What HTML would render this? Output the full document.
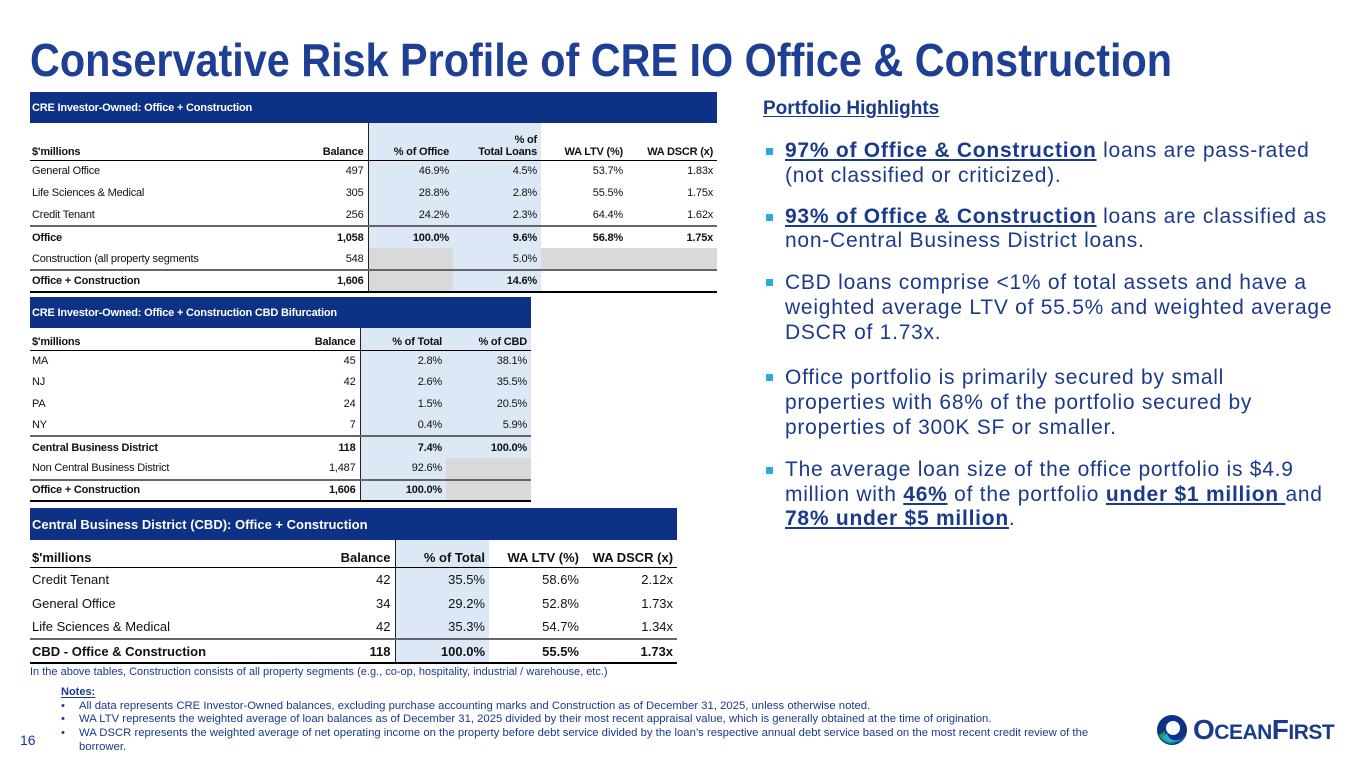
<!DOCTYPE html>
<html><head><meta charset="utf-8">
<style>
*{margin:0;padding:0;box-sizing:border-box}
body{width:1365px;height:768px;background:#fff;position:relative;overflow:hidden;font-family:"Liberation Sans",Arial,sans-serif;color:#1a3a8c}
.abs{position:absolute}
table{border-collapse:collapse;table-layout:fixed;position:absolute;font-family:"Liberation Sans",sans-serif;color:#111}
td{padding:0 4px;white-space:nowrap;overflow:hidden;text-align:right;vertical-align:middle}
td.l{text-align:left;padding-left:2px}
.band td{background:#0d3185;color:#fff;font-weight:bold;text-align:left;padding-left:2px}
.b{font-weight:bold}
.bl{background:#dce8f6}
.gr{background:#d9d9d9}
.vl{border-left:1px solid #222}
.hdr td{border-bottom:1.5px solid #000;font-weight:bold;vertical-align:bottom;padding-bottom:2px}
.sep td{border-top:2px solid #666}
.last td{border-bottom:2.5px solid #000}
.t1{font-size:11px;letter-spacing:-0.2px}
.t3{font-size:13px}
ul.hl{list-style:none;position:absolute;left:765px;top:139px;width:600px;font-size:21px;letter-spacing:0.75px;line-height:24.5px;color:#1a3a8c;white-space:nowrap}
ul.hl li{position:relative;padding-left:20px;margin-bottom:16.5px}
ul.hl li:before{content:"";position:absolute;left:1px;top:9px;width:7px;height:7px;background:#29abe2}
ul.hl li.m3{margin-bottom:19.5px;line-height:25px}
ul.hl li.m4{margin-bottom:18.5px;line-height:25px}
u{text-underline-offset:2px}
.notes{position:absolute;left:61px;top:686px;font-size:11.3px;line-height:13.7px;color:#1a3a8c;width:1032px}
.notes div{position:relative;padding-left:18px}
.notes div:before{content:"•";position:absolute;left:0}
</style></head><body>

<svg class="abs" style="left:0;top:0" width="1365" height="90">
<text x="30" y="76" font-family="Liberation Sans, sans-serif" font-weight="bold" font-size="46" fill="#1f3f94" textLength="1142" lengthAdjust="spacingAndGlyphs">Conservative Risk Profile of CRE IO Office &amp; Construction</text>
</svg>

<table class="t1" style="left:30px;top:92px;width:687px">
<colgroup><col style="width:260px"><col style="width:78px"><col style="width:85px"><col style="width:88px"><col style="width:86px"><col style="width:90px"></colgroup>
<tr class="band" style="height:31px"><td colspan="6">CRE Investor-Owned: Office + Construction</td></tr>
<tr class="hdr" style="height:37px"><td class="l">$'millions</td><td>Balance</td><td class="bl vl">% of Office</td><td class="bl" style="text-align:right">% of<br>Total Loans</td><td>WA LTV (%)</td><td>WA DSCR (x)</td></tr>
<tr style="height:22px"><td class="l">General Office</td><td>497</td><td class="bl vl">46.9%</td><td class="bl">4.5%</td><td>53.7%</td><td>1.83x</td></tr>
<tr style="height:22px"><td class="l">Life Sciences &amp; Medical</td><td>305</td><td class="bl vl">28.8%</td><td class="bl">2.8%</td><td>55.5%</td><td>1.75x</td></tr>
<tr style="height:22px"><td class="l">Credit Tenant</td><td>256</td><td class="bl vl">24.2%</td><td class="bl">2.3%</td><td>64.4%</td><td>1.62x</td></tr>
<tr class="sep b" style="height:22px"><td class="l">Office</td><td>1,058</td><td class="bl vl">100.0%</td><td class="bl">9.6%</td><td>56.8%</td><td>1.75x</td></tr>
<tr style="height:22px"><td class="l">Construction (all property segments</td><td>548</td><td class="gr vl"></td><td class="bl">5.0%</td><td class="gr"></td><td class="gr"></td></tr>
<tr class="sep last b" style="height:22px"><td class="l">Office + Construction</td><td>1,606</td><td class="gr vl"></td><td class="bl">14.6%</td><td></td><td></td></tr>
</table>

<table class="t1" style="left:30px;top:297px;width:501px">
<colgroup><col style="width:260px"><col style="width:70px"><col style="width:86px"><col style="width:85px"></colgroup>
<tr class="band" style="height:31px"><td colspan="4">CRE Investor-Owned: Office + Construction CBD Bifurcation</td></tr>
<tr class="hdr" style="height:22px"><td class="l">$'millions</td><td>Balance</td><td class="bl vl">% of Total</td><td class="bl">% of CBD</td></tr>
<tr style="height:21.6px"><td class="l">MA</td><td>45</td><td class="bl vl">2.8%</td><td class="bl">38.1%</td></tr>
<tr style="height:21.6px"><td class="l">NJ</td><td>42</td><td class="bl vl">2.6%</td><td class="bl">35.5%</td></tr>
<tr style="height:21.6px"><td class="l">PA</td><td>24</td><td class="bl vl">1.5%</td><td class="bl">20.5%</td></tr>
<tr style="height:21.6px"><td class="l">NY</td><td>7</td><td class="bl vl">0.4%</td><td class="bl">5.9%</td></tr>
<tr class="sep b" style="height:21.6px"><td class="l">Central Business District</td><td>118</td><td class="bl vl">7.4%</td><td class="bl">100.0%</td></tr>
<tr style="height:21.6px"><td class="l">Non Central Business District</td><td>1,487</td><td class="bl vl">92.6%</td><td class="gr"></td></tr>
<tr class="sep last b" style="height:21.6px"><td class="l">Office + Construction</td><td>1,606</td><td class="bl vl">100.0%</td><td class="gr"></td></tr>
</table>

<table class="t3" style="left:30px;top:508px;width:647px">
<colgroup><col style="width:290px"><col style="width:75px"><col style="width:94px"><col style="width:94px"><col style="width:94px"></colgroup>
<tr class="band" style="height:32px"><td colspan="5">Central Business District (CBD): Office + Construction</td></tr>
<tr class="hdr" style="height:27px"><td class="l">$'millions</td><td>Balance</td><td class="bl vl">% of Total</td><td>WA LTV (%)</td><td>WA DSCR (x)</td></tr>
<tr style="height:24px"><td class="l">Credit Tenant</td><td>42</td><td class="bl vl">35.5%</td><td>58.6%</td><td>2.12x</td></tr>
<tr style="height:24px"><td class="l">General Office</td><td>34</td><td class="bl vl">29.2%</td><td>52.8%</td><td>1.73x</td></tr>
<tr style="height:24px"><td class="l">Life Sciences &amp; Medical</td><td>42</td><td class="bl vl">35.3%</td><td>54.7%</td><td>1.34x</td></tr>
<tr class="sep last b" style="height:24px"><td class="l">CBD - Office &amp; Construction</td><td>118</td><td class="bl vl">100.0%</td><td>55.5%</td><td>1.73x</td></tr>
</table>

<div class="abs" style="left:30px;top:666px;font-size:11px;color:#1a3a8c">In the above tables, Construction consists of all property segments (e.g., co-op, hospitality, industrial / warehouse, etc.)</div>

<div class="abs" style="left:763px;top:98px;font-size:19px;font-weight:bold;color:#1a3a8c"><u>Portfolio Highlights</u></div>
<ul class="hl">
<li><b><u>97% of Office &amp; Construction</u></b> loans are pass-rated<br>(not classified or criticized).</li>
<li><b><u>93% of Office &amp; Construction</u></b> loans are classified as<br>non-Central Business District loans.</li>
<li class="m3">CBD loans comprise &lt;1% of total assets and have a<br>weighted average LTV of 55.5% and weighted average<br>DSCR of 1.73x.</li>
<li class="m4">Office portfolio is primarily secured by small<br>properties with 68% of the portfolio secured by<br>properties of 300K SF or smaller.</li>
<li>The average loan size of the office portfolio is $4.9<br>million with <b><u>46%</u></b> of the portfolio <b><u>under $1 million </u></b>and<br><b><u>78% under $5 million</u></b>.</li>
</ul>

<div class="notes">
<p style="font-weight:bold;font-size:11px"><u>Notes:</u></p>
<div>All data represents CRE Investor-Owned balances, excluding purchase accounting marks and Construction as of December 31, 2025, unless otherwise noted.</div>
<div>WA LTV represents the weighted average of loan balances as of December 31, 2025 divided by their most recent appraisal value, which is generally obtained at the time of origination.</div>
<div>WA DSCR represents the weighted average of net operating income on the property before debt service divided by the loan’s respective annual debt service based on the most recent credit review of the borrower.</div>
</div>

<div class="abs" style="left:20px;top:732px;font-size:14px;color:#1a3a8c">16</div>

<div class="abs" style="left:1155px;top:712px;width:200px;height:36px">
<svg width="34" height="34" style="position:absolute;left:0;top:1px">
<circle cx="17" cy="17" r="15" fill="#0d3185"/>
<path d="M4 22 A14 14 0 0 0 30 22 A10 10 0 0 1 10 18 Z" fill="#1aa34a"/>
<path d="M8 24 A12 12 0 0 0 28 24 A9 9 0 0 1 12 20 Z" fill="#29abe2"/>
<circle cx="18" cy="15" r="7" fill="#fff"/>
</svg>
<div style="position:absolute;left:38px;top:4px;font-weight:bold;color:#1a3a8c;font-size:28px;letter-spacing:-0.5px;line-height:28px"><span>O</span><span style="font-size:21px">CEAN</span><span>F</span><span style="font-size:21px">IRST</span></div>
</div>
</body></html>
